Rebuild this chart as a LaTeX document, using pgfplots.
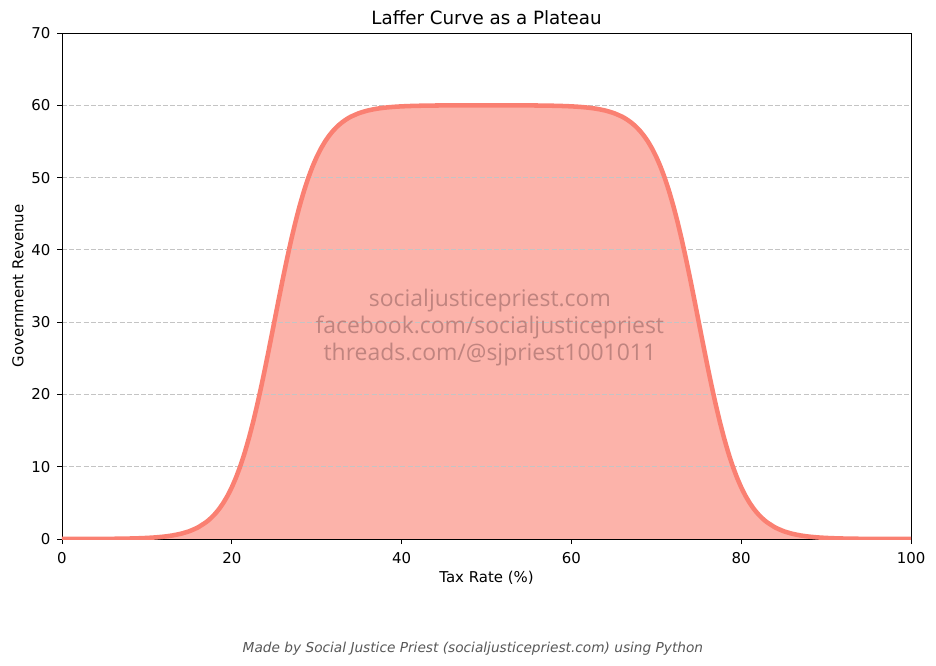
\documentclass[border=0pt]{standalone}
\usepackage{pgfplots}
\pgfplotsset{compat=1.18}
\usepackage{pgfplotstable}
\usepackage{fontspec}
\setmainfont{DejaVu Sans}
\newfontfamily\wmfont{Open Sans}
\definecolor{salmon}{RGB}{250,128,114}
\definecolor{wmcolor}{RGB}{192,132,127}
\definecolor{gridc}{RGB}{196,196,196}
\definecolor{footc}{RGB}{88,88,88}

\pgfplotstableread{
x y
0 0.003
1 0.004
2 0.006
3 0.009
4 0.014
5 0.020
6 0.030
7 0.045
8 0.067
9 0.100
10 0.148
11 0.221
12 0.329
13 0.490
14 0.728
15 1.079
16 1.596
17 2.350
17.5 2.846
18 3.439
18.5 4.148
19 4.990
19.5 5.985
20 7.152
20.5 8.511
21 10.079
21.5 11.869
22 13.889
22.5 16.137
23 18.602
23.5 21.262
24 24.079
24.5 27.010
25 30.000
25.5 32.990
26 35.921
26.5 38.738
27 41.398
27.5 43.863
28 46.111
28.5 48.131
29 49.921
29.5 51.489
30 52.848
30.5 54.015
31 55.010
31.5 55.852
32 56.561
32.5 57.154
33 57.650
33.5 58.062
34 58.408
35 58.921
36 59.272
37 59.510
38 59.671
39 59.779
40 59.852
41 59.900
42 59.933
43 59.955
44 59.970
45 59.980
46 59.987
47 59.991
48 59.994
49 59.995
50 59.995
51 59.995
52 59.994
53 59.991
54 59.987
55 59.980
56 59.970
57 59.955
58 59.933
59 59.900
60 59.852
61 59.779
62 59.671
63 59.510
64 59.272
65 58.921
66 58.408
66.5 58.062
67 57.650
67.5 57.154
68 56.561
68.5 55.852
69 55.010
69.5 54.015
70 52.848
70.5 51.489
71 49.921
71.5 48.131
72 46.111
72.5 43.863
73 41.398
73.5 38.738
74 35.921
74.5 32.990
75 30.000
75.5 27.010
76 24.079
76.5 21.262
77 18.602
77.5 16.137
78 13.889
78.5 11.869
79 10.079
79.5 8.511
80 7.152
80.5 5.985
81 4.990
81.5 4.148
82 3.439
82.5 2.846
83 2.350
84 1.596
85 1.079
86 0.728
87 0.490
88 0.329
89 0.221
90 0.148
91 0.100
92 0.067
93 0.045
94 0.030
95 0.020
96 0.014
97 0.009
98 0.006
99 0.004
100 0.003
}\laffer

\begin{document}
\begin{tikzpicture}
\begin{axis}[
  at={(0,0)}, anchor=south west,
  scale only axis,
  width=636.75pt, height=379.5pt,
  set layers,
  xmin=0, xmax=100, ymin=0, ymax=70,
  xtick={0,20,40,60,80,100},
  ytick={0,10,20,30,40,50,60,70},
  tick pos=left,
  tick align=outside,
  major tick length=3.75pt,
  every tick/.style={black, line width=0.6pt},
  axis line style={black, line width=0.6pt},
  ymajorgrids,
  major grid style={gridc, line width=0.6pt, dash pattern=on 3.8pt off 1.6pt},
  tick label style={font=\fontsize{11.2}{13}\selectfont, black},
  /pgf/number format/assume math mode=true,
  xticklabel style={yshift=-2.5pt},
  yticklabel style={xshift=-1.5pt},
  xlabel={Tax Rate (\%)},
  ylabel={Government Revenue},
  label style={font=\fontsize{11.2}{13}\selectfont},
  xlabel style={at={(axis description cs:0.5,-0.077)}, anchor=center},
  ylabel style={at={(axis description cs:-0.052,0.5)}, anchor=center},
  title={Laffer Curve as a Plateau},
  title style={at={(axis description cs:0.5,1.0138)}, anchor=center, font=\fontsize{13.7}{16}\selectfont},
  clip mode=individual,
]
\addplot[on layer=axis background, draw=none, fill=salmon, fill opacity=0.6] table[x=x,y=y] {\laffer} \closedcycle;
\addplot[salmon, line width=3.4pt, smooth, tension=0.3] table[x=x,y=y] {\laffer};
\node[font=\wmfont\fontsize{17.2}{20.25}\selectfont, text=wmcolor, align=center, anchor=center] at (axis cs:50.4,29.2)
  {socialjusticepriest.com\\facebook.com/socialjusticepriest\\threads.com/@sjpriest1001011};
\node[font=\itshape\fontsize{10.27}{12}\selectfont, text=footc, anchor=center] at (axis description cs:0.484,-0.2174)
  {Made by Social Justice Priest (socialjusticepriest.com) using Python};
\end{axis}
\pgfresetboundingbox
\path[use as bounding box] (-46.5pt,-94.5pt) rectangle (655.5pt,404.25pt);
\end{tikzpicture}
\end{document}
